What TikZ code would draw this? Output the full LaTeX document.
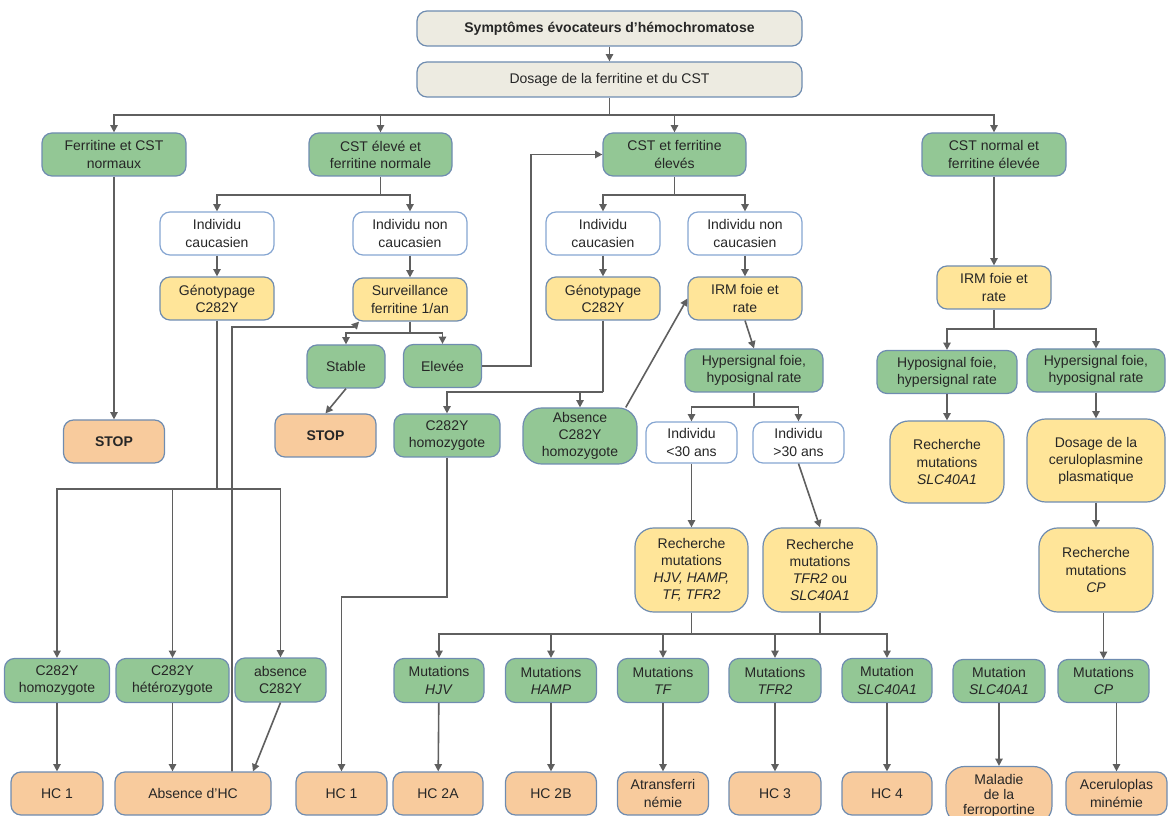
\documentclass[tikz,border=0pt]{standalone}
\usepackage{fontspec}
\setmainfont{Liberation Sans}
\usepackage{xcolor}
\usepackage{tikz}
\usetikzlibrary{arrows.meta,calc}

\definecolor{beigefill}{HTML}{EDEBE1}
\definecolor{greenfill}{HTML}{93C795}
\definecolor{yellowfill}{HTML}{FFE599}
\definecolor{orangefill}{HTML}{F8CB9D}
\definecolor{boxline}{HTML}{6F8CB0}
\definecolor{whiteline}{HTML}{86A6D2}
\definecolor{arrowgrey}{HTML}{5F5F5F}

\tikzset{
 box/.style={draw=boxline, line width=0.9pt, rounded corners=7.5pt, align=center, inner sep=0pt, text=black!85, font=\fontsize{10.5}{12.8}\selectfont},
 wh/.style 2 args={minimum width=#1*0.75pt, minimum height=#2*0.75pt},
 startbox/.style={box, fill=beigefill},
 resbox/.style={box, fill=greenfill},
 indbox/.style={box, fill=white, draw=whiteline},
 exambox/.style={box, fill=yellowfill},
 diagbox/.style={box, fill=orangefill},
 big/.style={rounded corners=14pt},
 ln/.style={draw=arrowgrey, line width=1.2pt},
 arr/.style={ln, -{Triangle[length=5.5pt,width=5.5pt]}}
}

\begin{document}
\begin{tikzpicture}[x=0.75pt,y=-0.75pt]
 \clip (0,0) rectangle (1168,816);
 \node[startbox, wh={385}{35}] (sympt) at (609.5,28.5) {\bfseries Symptômes évocateurs d’hémochromatose};
 \node[startbox, wh={385}{35}] (dosage) at (609.5,79.5) {Dosage de la ferritine et du CST};
 \node[resbox, wh={144}{43}] (fcn) at (114,154.5) {Ferritine et CST\\normaux};
 \node[resbox, wh={143}{43}] (cstel) at (380.5,154.5) {CST élevé et\\ferritine normale};
 \node[resbox, wh={143}{43}] (cstfe) at (674.5,154.5) {CST et ferritine\\élevés};
 \node[resbox, wh={144}{43}] (cstn) at (994,154.5) {CST normal et\\ferritine élevée};

 \node[indbox, wh={114}{43}] (ic1) at (217,233.5) {Individu\\caucasien};
 \node[indbox, wh={114}{43}] (inc1) at (410,233.5) {Individu non\\caucasien};
 \node[indbox, wh={114}{43}] (ic2) at (603,233.5) {Individu\\caucasien};
 \node[indbox, wh={114}{43}] (inc2) at (745,233.5) {Individu non\\caucasien};

 \node[exambox, wh={114}{43}] (geno1) at (217,298.5) {Génotypage\\C282Y};
 \node[exambox, wh={114}{43}] (surv) at (410,299.5) {Surveillance\\ferritine 1/an};
 \node[exambox, wh={114}{43}] (geno2) at (603,298.5) {Génotypage\\C282Y};
 \node[exambox, wh={114}{43}] (irm1) at (745,298.5) {IRM foie et\\rate};
 \node[exambox, wh={114}{43}] (irm2) at (994,287.5) {IRM foie et\\rate};

 \node[resbox, wh={78}{43}] (stable) at (346,366.5) {Stable};
 \node[resbox, wh={78}{43}] (elev) at (442.5,366) {Elevée};
 \node[diagbox, wh={101}{43}] (stop1) at (114,441.5) {\bfseries STOP};
 \node[diagbox, wh={101}{43}] (stop2) at (325.5,435.5) {\bfseries STOP};
 \node[resbox, wh={106}{43}] (hom2) at (447,435.5) {C282Y\\homozygote};
 \node[resbox, big, wh={114}{56}] (absc) at (580,436) {Absence\\C282Y\\homozygote};
 \node[resbox, wh={138}{43}] (hyper1) at (754,370.5) {Hypersignal foie,\\hyposignal rate};
 \node[indbox, wh={91}{41}] (lt30) at (691.5,442.5) {Individu\\<30 ans};
 \node[indbox, wh={91}{41}] (gt30) at (798.5,442.5) {Individu\\>30 ans};
 \node[exambox, big, wh={113}{84}] (rech1) at (691.5,570) {Recherche\\mutations\\\textit{HJV, HAMP,}\\\textit{TF, TFR2}};
 \node[exambox, big, wh={114}{84}] (rech2) at (820,570) {Recherche\\mutations\\\textit{TFR2} ou\\\textit{SLC40A1}};

 \node[resbox, wh={140}{43}] (hypo) at (947,372) {Hyposignal foie,\\hypersignal rate};
 \node[resbox, wh={138}{43}] (hyper2) at (1096,370.5) {Hypersignal foie,\\hyposignal rate};
 \node[exambox, big, wh={114}{82}] (rslc) at (947,462) {Recherche\\mutations\\\textit{SLC40A1}};
 \node[exambox, big, wh={138}{83}] (cerul) at (1096,460.5) {Dosage de la\\ceruloplasmine\\plasmatique};
 \node[exambox, big, wh={114}{84}] (rcp) at (1096,570) {Recherche\\mutations\\\textit{CP}};

 \node[resbox, wh={105}{44}] (hom1) at (57,680.5) {C282Y\\homozygote};
 \node[resbox, wh={113}{44}] (het) at (172.5,680.5) {C282Y\\hétérozygote};
 \node[resbox, wh={91}{44}] (absn) at (280.5,680) {absence\\C282Y};
 \node[resbox, wh={90}{44}] (mhjv) at (439,680.5) {Mutations\\\textit{HJV}};
 \node[resbox, wh={91}{44}] (mhamp) at (551,680.5) {Mutations\\\textit{HAMP}};
 \node[resbox, wh={91}{44}] (mtf) at (663,680.5) {Mutations\\\textit{TF}};
 \node[resbox, wh={92}{44}] (mtfr2) at (775,680.5) {Mutations\\\textit{TFR2}};
 \node[resbox, wh={90}{44}] (mslc) at (887,680.5) {Mutation\\\textit{SLC40A1}};
 \node[resbox, wh={92}{43}] (mslc2) at (999,681) {Mutation\\\textit{SLC40A1}};
 \node[resbox, wh={91}{43}] (mcp) at (1103.5,681) {Mutations\\\textit{CP}};

 \node[diagbox, wh={92}{43}] (hc1a) at (57,793.5) {HC 1};
 \node[diagbox, wh={156}{43}] (nohc) at (193,793.5) {Absence d’HC};
 \node[diagbox, wh={91}{43}] (hc1b) at (341.5,793.5) {HC 1};
 \node[diagbox, wh={90}{43}] (hc2a) at (438,793.5) {HC 2A};
 \node[diagbox, wh={91}{43}] (hc2b) at (551,793.5) {HC 2B};
 \node[diagbox, wh={91}{43}] (atf) at (663,793.5) {Atransferri\\némie};
 \node[diagbox, wh={92}{43}] (hc3) at (775,793.5) {HC 3};
 \node[diagbox, wh={90}{43}] (hc4) at (887,793.5) {HC 4};
 \node[diagbox, big, wh={106}{58}, font=\fontsize{10.5}{11.2}\selectfont] (malf) at (999,795.5) {Maladie\\de la\\ferroportine};
 \node[diagbox, wh={101}{43}] (acer) at (1116.5,793.5) {Aceruloplas\\minémie};

 \coordinate (s1) at (609.5,115);
 \coordinate (s2) at (380.5,195);
 \coordinate (s3) at (674.5,195);
 \coordinate (s4) at (410,333);
 \coordinate (s5) at (217,489);
 \coordinate (s6) at (603,392);
 \coordinate (s7) at (754,407);
 \coordinate (s8) at (691.5,634);
 \coordinate (s9) at (994,329);
 \coordinate (e1) at (531,366);
 \coordinate (h1) at (447,597);
 \coordinate (r2) at (232,327);
 \coordinate (r3) at (354,327);

 \draw[arr] (sympt) -- (dosage);
 \draw[ln] (dosage) -- (s1);
 \draw[arr] (s1) -| (fcn);
 \draw[arr] (s1) -| (cstel);
 \draw[arr] (s1) -| (cstfe);
 \draw[arr] (s1) -| (cstn);
 \draw[ln] (cstel) -- (s2);
 \draw[arr] (s2) -| (ic1);
 \draw[arr] (s2) -| (inc1);
 \draw[ln] (cstfe) -- (s3);
 \draw[arr] (s3) -| (ic2);
 \draw[arr] (s3) -| (inc2);
 \draw[arr] (fcn) -- (stop1);
 \draw[arr] (cstn) -- (irm2);
 \draw[arr] (ic1) -- (geno1);
 \draw[arr] (inc1) -- (surv);
 \draw[arr] (ic2) -- (geno2);
 \draw[arr] (inc2) -- (irm1);

 \draw[ln] (surv) -- (s4);
 \draw[arr] (s4) -| (stable);
 \draw[arr] (s4) -| (elev);
 \draw[arr] (stable.south) -- (stop2.north);
 \draw[arr] (elev) -- (e1) |- (cstfe);

 \draw[ln] (geno1) -- (s5);
 \draw[arr] (s5) -| (hom1);
 \draw[arr] (s5) -| (het);
 \draw[arr] (s5) -| (absn);
 \draw[arr] (hom1) -- (hc1a);
 \draw[arr] (het.south) -- (het.south |- nohc.north);
 \draw[arr] (absn.south) -- ($(nohc.north)+(60,0)$);
 \draw[arr] (nohc.north -| r2) -- (r2) -- (r3) -- ([xshift=5pt]surv.south west);

 \draw[ln] (geno2) -- (s6);
 \draw[arr] (s6) -| (hom2);
 \draw[arr] (s6) -| (absc);
 \draw[arr] (hom2) -- (h1) -| (hc1b);
 \draw[arr] (absc.32) -- (irm1.west);

 \draw[arr] (irm1.south) -- (hyper1.north);
 \draw[ln] (hyper1) -- (s7);
 \draw[arr] (s7) -| (lt30);
 \draw[arr] (s7) -| (gt30);
 \draw[arr] (lt30) -- (rech1);
 \draw[arr] (gt30.south) -- (rech2.north);
 \draw[ln] (rech1) -- (s8);
 \draw[ln] (rech2.south) -- (rech2.south |- s8);
 \draw[arr] (s8) -| (mhjv);
 \draw[arr] (s8) -| (mhamp);
 \draw[arr] (s8) -| (mtf);
 \draw[arr] (s8) -| (mtfr2);
 \draw[arr] (s8) -| (mslc);
 \draw[arr] (mhjv) -- (hc2a);
 \draw[arr] (mhamp) -- (hc2b);
 \draw[arr] (mtf) -- (atf);
 \draw[arr] (mtfr2) -- (hc3);
 \draw[arr] (mslc) -- (hc4);

 \draw[ln] (irm2) -- (s9);
 \draw[arr] (s9) -| (hypo);
 \draw[arr] (s9) -| (hyper2);
 \draw[arr] (hypo) -- (rslc);
 \draw[arr] (hyper2) -- (cerul);
 \draw[arr] (cerul) -- (rcp);
 \draw[arr] (rcp.south -| mcp.north) -- (mcp.north);
 \draw[arr] (acer.north |- mcp.south) -- (acer.north);
 \draw[arr] (mslc2) -- (malf);
\end{tikzpicture}
\end{document}
